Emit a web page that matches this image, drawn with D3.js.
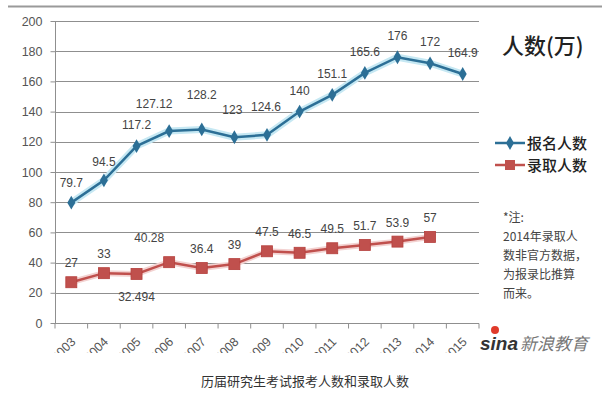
<!DOCTYPE html>
<html><head><meta charset="utf-8">
<script src="https://cdn.jsdelivr.net/npm/d3@7"></script>
<style>body{margin:0;background:#fff;}svg{display:block;}</style>
</head><body>
<svg id="c" width="610" height="395"></svg>
<script>
const years = ["2003","2004","2005","2006","2007","2008","2009","2010","2011","2012","2013","2014","2015"];
const applicants = [79.7,94.5,117.2,127.12,128.2,123,124.6,140,151.1,165.6,176,172,164.9];
const admitted = [27,33,32.494,40.28,36.4,39,47.5,46.5,49.5,51.7,53.9,57,null];
const yTicks = [0,20,40,60,80,100,120,140,160,180,200];
const seriesNames = ["报名人数","录取人数"];
const noteLines = ["*注:","2014年录取人","数非官方数据，","为报录比推算","而来。"];
const caption = "历届研究生考试报考人数和录取人数";

const svg = d3.select("#c");
const font = "Arial, 'Liberation Sans', sans-serif";
const cjk = "'Noto Sans CJK SC', sans-serif";
const blue = "#2c6f96", blueGlow = "#c6e8f3";
const red = "#c0504d", redGlow = "#f3d2d1";

const x = d3.scaleBand().domain(years).range([55, 479]);
const y = d3.scaleLinear().domain([0, 200]).range([323, 21]);
const cx = d => x(d) + x.bandwidth() / 2;

svg.append("clipPath").attr("id","clip").append("rect").attr("x",0).attr("y",0).attr("width",610).attr("height",353);
const g = svg.append("g").attr("clip-path","url(#clip)");

// top frame line
g.append("line").attr("x1",8).attr("x2",602).attr("y1",6.5).attr("y2",6.5).attr("stroke","#9a9a9a").attr("stroke-width",2);

// grid
g.append("g").selectAll("line").data(yTicks.filter(t=>t>0)).join("line")
  .attr("x1",55).attr("x2",479).attr("y1",d=>Math.round(y(d))+0.5).attr("y2",d=>Math.round(y(d))+0.5)
  .attr("stroke","#8f8f8f").attr("stroke-width",1);

// y axis
const ya = g.append("g").attr("transform","translate(55.5,0)")
  .call(d3.axisLeft(y).tickValues(yTicks).tickSize(5).tickPadding(8));
ya.select(".domain").attr("stroke","#8f8f8f").attr("d","M0,"+y(200)+"V"+y(0));
ya.selectAll(".tick line").attr("stroke","#8f8f8f");
ya.selectAll("text").attr("font-family",font).attr("font-size",12.5).attr("fill","#555");

// x axis
const xa = g.append("g").attr("transform","translate(0,"+(Math.round(y(0))+0.5)+")");
xa.append("line").attr("x1",55).attr("x2",479).attr("stroke","#8f8f8f");
xa.selectAll("line.t").data(d3.range(years.length+1)).join("line").attr("class","t")
  .attr("x1",i=>55+i*x.step()).attr("x2",i=>55+i*x.step()).attr("y1",0).attr("y2",5).attr("stroke","#8f8f8f");
xa.selectAll("text").data(years).join("text")
  .attr("transform",d=>"translate("+(cx(d)+5)+",19) rotate(-45)")
  .attr("text-anchor","end").attr("font-family",font).attr("font-size",12.5).attr("fill","#555").text(d=>d);

// lines
const line = d3.line().defined(d=>d.v!=null).x(d=>cx(d.k)).y(d=>y(d.v));
const aData = years.map((k,i)=>({k, v:applicants[i]}));
const rData = years.map((k,i)=>({k, v:admitted[i]}));
g.append("path").datum(aData).attr("d",line).attr("fill","none").attr("stroke",blueGlow).attr("stroke-width",7).attr("stroke-linejoin","round");
g.append("path").datum(rData).attr("d",line).attr("fill","none").attr("stroke",redGlow).attr("stroke-width",6).attr("stroke-linejoin","round");
g.append("path").datum(aData).attr("d",line).attr("fill","none").attr("stroke",blue).attr("stroke-width",2.5);
g.append("path").datum(rData).attr("d",line).attr("fill","none").attr("stroke",red).attr("stroke-width",2.5);

// markers
const diamond = d3.symbol().type(d3.symbolDiamond).size(55);
g.append("g").selectAll("path").data(aData).join("path")
  .attr("d",diamond).attr("transform",d=>"translate("+cx(d.k)+","+y(d.v)+")").attr("fill",blue);
g.append("g").selectAll("rect").data(rData.filter(d=>d.v!=null)).join("rect")
  .attr("x",d=>cx(d.k)-5.5).attr("y",d=>y(d.v)-5.5).attr("width",11).attr("height",11).attr("fill",red).attr("stroke","#b5403d").attr("stroke-width",0.8);

// data labels (label nudges are layout only)
const lblSize = 12;
const aNudge = {0:[0,1],1:[0,3],3:[-15,-6],4:[0,-13],5:[-2,-6],6:[-1,-7]};
g.append("g").selectAll("text").data(aData).join("text")
  .attr("x",(d,i)=>cx(d.k)+(aNudge[i]?aNudge[i][0]:0))
  .attr("y",(d,i)=>y(d.v)-17+(aNudge[i]?aNudge[i][1]:0)).attr("text-anchor","middle")
  .attr("font-family",font).attr("font-size",lblSize).attr("fill","#444").text(d=>d.v);
const rNudge = {2:[0,42],3:[-20,-5]};
g.append("g").selectAll("text").data(rData.filter(d=>d.v!=null)).join("text")
  .attr("x",(d,i)=>cx(d.k)+(rNudge[i]?rNudge[i][0]:0))
  .attr("y",(d,i)=>y(d.v)-15+(rNudge[i]?rNudge[i][1]:0)).attr("text-anchor","middle")
  .attr("font-family",font).attr("font-size",lblSize).attr("fill","#444").text(d=>d.v);

// title
g.append("text").attr("x",502).attr("y",54).attr("font-family",cjk).attr("font-size",22).attr("font-weight",500).attr("fill","#222").text("人数(万)");

// legend
const leg = g.append("g");
[[blue,143],[red,165]].forEach(([c,ly],i)=>{
  leg.append("line").attr("x1",495).attr("x2",525).attr("y1",ly).attr("y2",ly).attr("stroke",c).attr("stroke-width",2.5);
  if(i===0) leg.append("path").attr("d",diamond).attr("transform","translate(510,"+ly+")").attr("fill",c);
  else leg.append("rect").attr("x",505).attr("y",ly-5).attr("width",10).attr("height",10).attr("fill",c);
  leg.append("text").attr("x",527).attr("y",ly+5.5).attr("font-family",cjk).attr("font-size",15).attr("font-weight",500).attr("fill","#222").text(seriesNames[i]);
});

// note
g.append("g").selectAll("text").data(noteLines).join("text")
  .attr("x",503).attr("y",(d,i)=>222+i*19).attr("font-family",cjk).attr("font-size",12).attr("fill","#444").text(d=>d);

// sina logo
const logo = g.append("text").attr("x",480).attr("y",350).attr("font-style","italic");
logo.append("tspan").attr("font-family",font).attr("font-weight","bold").attr("font-size",19).attr("fill","#333").text("sina");
logo.append("tspan").attr("font-family",cjk).attr("font-size",17).attr("fill","#777").attr("dx",2).text("新浪教育");
g.append("circle").attr("cx",495).attr("cy",330).attr("r",4).attr("fill","#e03a2a");

// caption
svg.append("text").attr("x",305).attr("y",386).attr("text-anchor","middle").attr("font-family",cjk).attr("font-size",13).attr("fill","#333").text(caption);
</script>
</body></html>
